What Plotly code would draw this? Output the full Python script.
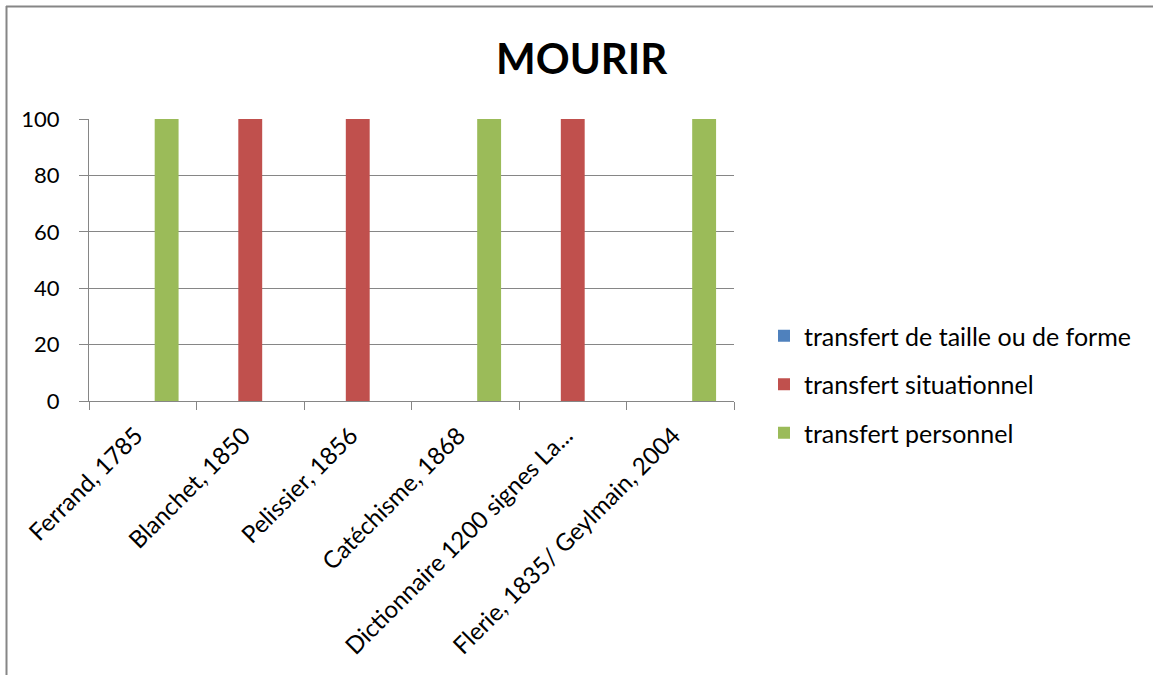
import plotly.graph_objects as go

categories = ["Ferrand, 1785", "Blanchet, 1850", "Pelissier, 1856", "Catéchisme, 1868",
              "Dictionnaire 1200 signes La...", "Flerie, 1835/ Geylmain, 2004"]
series_names = ["transfert de taille ou de forme", "transfert situationnel", "transfert personnel"]
taille = [0, 0, 0, 0, 0, 0]
situationnel = [0, 100, 100, 0, 100, 0]
personnel = [100, 0, 0, 100, 0, 100]
colors = ["#4F81BD", "#C0504D", "#9BBB59"]
y_ticks = [0, 20, 40, 60, 80, 100]
title_text = "MOURIR"

W, H = 1153, 675
L, R, T, B = 89, 734, 119, 401  # plot area pixels

def px_x(px):
    return (px - L) / (R - L)

def px_y(py):
    return (B - py) / (B - T)

FONT = "Lato, Carlito, Calibri, sans-serif"

fig = go.Figure()
for i, (name, vals) in enumerate(zip(series_names, [taille, situationnel, personnel])):
    fig.add_trace(go.Bar(x=categories, y=vals, name=name, marker_color=colors[i],
                         marker_line_width=0, legendgroup=f"g{i}"))

grid = "#868686"
fig.update_layout(
    width=W, height=H,
    margin=dict(l=L, r=W - R, t=T, b=H - B, autoexpand=False),
    paper_bgcolor="white", plot_bgcolor="white",
    barmode="group", bargap=1.5 / 4.5, bargroupgap=0,
    font=dict(family=FONT, size=24, color="black"),
    showlegend=True,
    legend=dict(x=px_x(764), y=px_y(313), xanchor="left", yanchor="top",
                xref="paper", yref="paper", traceorder="grouped", tracegroupgap=13,
                font=dict(family=FONT, size=25, color="black"), bgcolor="rgba(0,0,0,0)"),
    xaxis=dict(showgrid=False, showline=True, linecolor=grid, linewidth=1,
               ticks="outside", tickson="boundaries", ticklen=8, tickcolor=grid,
               tickangle=-45, tickfont=dict(family=FONT, size=24, color="black"),
               ticklabelstandoff=10, ticklabelshift=-7),
    yaxis=dict(range=[0, 100], tickvals=y_ticks, showgrid=True, gridcolor=grid, gridwidth=1,
               showline=True, linecolor=grid, linewidth=1, ticks="outside", ticklen=9,
               tickcolor=grid, zeroline=False, tickfont=dict(family=FONT, size=22, color="black"),
               ticklabelstandoff=15),
)

fig.add_annotation(text=f"<b>{title_text}</b>", xref="paper", yref="paper",
                   x=px_x(582), y=px_y(58), xanchor="center", yanchor="middle",
                   showarrow=False, font=dict(family=FONT, size=42, color="black"))

# chart-area border (left and top edges visible)
fig.add_shape(type="line", xref="paper", yref="paper", x0=px_x(6.5), x1=px_x(6.5),
              y0=px_y(6), y1=px_y(700), line=dict(color=grid, width=2))
fig.add_shape(type="line", xref="paper", yref="paper", x0=px_x(6), x1=px_x(1200),
              y0=px_y(6.5), y1=px_y(6.5), line=dict(color=grid, width=2))

fig.write_html("out.html", config={"displayModeBar": False},
               post_script="document.body.style.margin='0';document.body.style.overflow='hidden';")
